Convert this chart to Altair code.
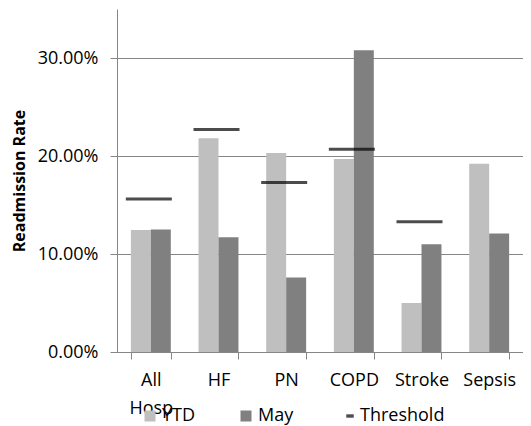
import altair as alt
import pandas as pd

categories = ["All Hosp", "HF", "PN", "COPD", "Stroke", "Sepsis"]
series = ["YTD", "May"]
ytd = [0.1245, 0.218, 0.203, 0.197, 0.050, 0.192]
may = [0.125, 0.117, 0.076, 0.308, 0.110, 0.121]
threshold_cats = ["All Hosp", "HF", "PN", "COPD", "Stroke"]
threshold = [0.156, 0.227, 0.173, 0.207, 0.133]
y_ticks = [0, 0.1, 0.2, 0.3]

bars_df = pd.DataFrame({
    "category": categories * 2,
    "series": [series[0]] * len(categories) + [series[1]] * len(categories),
    "rate": ytd + may,
})
thr_df = pd.DataFrame({
    "category": threshold_cats,
    "rate": threshold,
    "label": ["Threshold"] * len(threshold_cats),
})

FONT = "Open Sans"
GRAY = "#868686"

x_enc = alt.X(
    "category:N",
    sort=categories,
    scale=alt.Scale(paddingInner=0.41, paddingOuter=0.205),
    axis=alt.Axis(
        title=None, labelAngle=0, labelExpr="split(datum.label, ' ')",
        labelFont=FONT, labelFontSize=18, labelColor="black", labelLineHeight=28,
        labelPadding=12, tickSize=7, tickColor=GRAY, tickBand="extent",
        domainColor=GRAY, grid=False,
    ),
)
y_enc = alt.Y(
    "rate:Q",
    scale=alt.Scale(domain=[0, 0.35], nice=False),
    axis=alt.Axis(
        values=y_ticks, format=".2%", title="Readmission Rate",
        labelFont=FONT, labelFontSize=18, labelColor="black", labelPadding=12,
        tickSize=7, tickColor=GRAY, domainColor=GRAY,
        grid=True, gridColor=GRAY,
        titleFont=FONT, titleFontSize=16, titleFontWeight="bold", titleColor="black",
        titleX=-98, titleY=171.5, titleAlign="center", titleBaseline="middle",
    ),
)

bars = alt.Chart(bars_df).mark_bar().encode(
    x=x_enc,
    y=y_enc,
    xOffset=alt.XOffset("series:N", sort=series, scale=alt.Scale(domain=series)),
    color=alt.Color(
        "series:N",
        scale=alt.Scale(domain=series, range=["#bfbfbf", "#808080"]),
        legend=alt.Legend(
            orient="none", legendX=24, legendY=398, direction="horizontal",
            title=None, symbolType="square", symbolSize=121, symbolStrokeWidth=0,
            labelFont=FONT, labelFontSize=18, labelColor="black",
            labelOffset=3, columnPadding=41, padding=0,
        ),
    ),
)

ticks = alt.Chart(thr_df).mark_tick(thickness=3, size=46, xOffset=-2).encode(
    x=x_enc,
    y=y_enc,
    color=alt.Color(
        "label:N",
        scale=alt.Scale(domain=["Threshold"], range=["black"]),
        legend=alt.Legend(
            orient="none", legendX=224, legendY=398, direction="horizontal",
            title=None, symbolType="M-1,-0.45H1V0.45H-1Z", symbolSize=56,
            symbolStrokeWidth=0, symbolFillColor="black",
            labelFont=FONT, labelFontSize=18, labelColor="black",
            labelOffset=1, padding=0,
        ),
    ),
)

chart = alt.layer(bars, ticks).resolve_scale(color="independent").properties(
    width=406,
    height=343,
    padding={"left": 109, "top": 1, "right": 0, "bottom": 74},
    autosize=alt.AutoSizeParams(type="none"),
).configure_view(stroke=None)

chart.save("out.html", embed_options={"renderer": "svg", "actions": False})
